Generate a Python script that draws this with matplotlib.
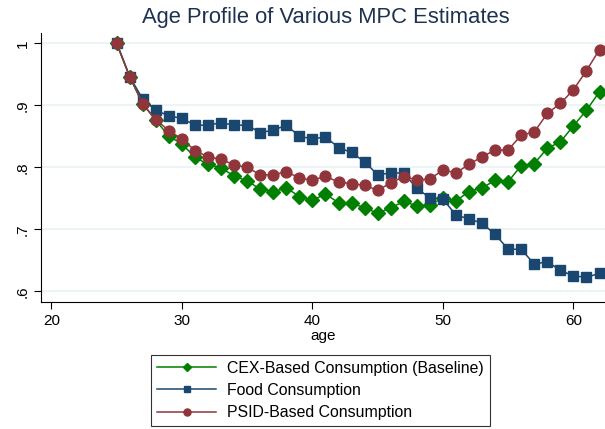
import matplotlib
matplotlib.use("Agg")
import matplotlib.pyplot as plt

plt.rcParams['font.family'] = ['Liberation Sans', 'DejaVu Sans']

ages = list(range(25, 63))
cex = [1.0, .946, .902, .876, .850, .838, .816, .805, .799, .786,
       .778, .765, .761, .767, .753, .747, .757, .743, .742, .735,
       .726, .735, .745, .738, .739, .751, .746, .761, .767, .779,
       .777, .803, .806, .831, .841, .867, .892, .922]
food = [1.0, .946, .910, .892, .883, .879, .868, .868, .872, .868,
        .868, .856, .860, .868, .850, .846, .849, .832, .824, .809,
        .788, .791, .791, .766, .751, .749, .723, .717, .710, .692,
        .668, .668, .644, .648, .634, .625, .623, .629]
psid = [1.0, .946, .902, .877, .859, .846, .827, .817, .813, .804,
        .800, .788, .788, .793, .783, .779, .786, .776, .774, .771,
        .763, .775, .785, .780, .781, .796, .791, .805, .817, .828,
        .828, .852, .857, .887, .903, .925, .956, .990]

labels = ["CEX-Based Consumption (Baseline)", "Food Consumption", "PSID-Based Consumption"]
xticks = [20, 30, 40, 50, 60]
yticks = [0.6, 0.7, 0.8, 0.9, 1.0]
yticklabels = [".6", ".7", ".8", ".9", "1"]

c_green = "#007F00"
c_navy = "#1A476F"
c_maroon = "#90353B"

W, H = 605, 429
fig = plt.figure(figsize=(W / 100, H / 100), dpi=100)
ax = fig.add_axes([40.5 / W, 1 - 302 / H, 1 - 40.5 / W, (302 - 33) / H])

ax.plot(ages, cex, color=c_green, marker="D", markersize=7, lw=1.1, label=labels[0], zorder=3)
ax.plot(ages, food, color=c_navy, marker="s", markersize=7.2, lw=1.1, label=labels[1], zorder=4)
ax.plot(ages, psid, color=c_maroon, marker="o", markersize=7.8, lw=1.1, label=labels[2], zorder=5)

ax.set_xlim(19.16, 62.42)
ax.set_ylim(0.583, 1.0166)
ax.set_xticks(xticks)
ax.set_yticks(yticks)
ax.set_yticklabels(yticklabels, rotation=90, va="center")
ax.tick_params(axis="both", direction="out", length=5, width=0.8, labelsize=11, colors="black")
ax.tick_params(axis="y", pad=3)
for s in ["top", "right"]:
    ax.spines[s].set_visible(False)
for s in ["left", "bottom"]:
    ax.spines[s].set_linewidth(0.8)
ax.grid(axis="y", color="#EAF2F3", lw=1.2, zorder=0)
ax.set_axisbelow(True)
ax.set_xlabel("age", fontsize=11, labelpad=1)

fig.suptitle("Age Profile of Various MPC Estimates", x=326 / W, y=1 - 17 / H, va="center",
             fontsize=15.8, color="#1E3250")

leg = fig.legend(loc="center", bbox_to_anchor=(320.5 / W, 1 - 390.5 / H), fontsize=11.4,
                 frameon=True, fancybox=False, edgecolor="black", handlelength=3.75,
                 borderpad=0.35, labelspacing=0.45, handletextpad=0.7, markerscale=0.65,
                 borderaxespad=0)
leg.get_frame().set_linewidth(0.8)

fig.savefig("out.png", dpi=100)
